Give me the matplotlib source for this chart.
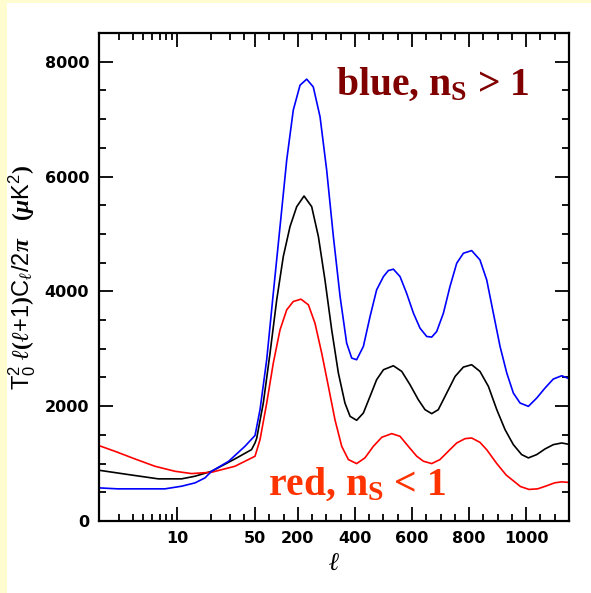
import matplotlib
matplotlib.use('Agg')
import matplotlib.pyplot as plt
import numpy as np
from matplotlib.patches import Rectangle

# multipole l and band power for the three spectra
l_blue = [2, 2.94, 7.8, 11, 14.5, 17.8, 20.4, 29, 40.6, 50, 67.5, 90.9, 114, 137.6, 161, 184, 207.7, 231, 254, 277.8,
          301, 324.5, 348, 371, 388.7, 406, 429.6, 453, 476, 500, 517, 534.7, 558, 581, 605, 628, 651.5, 669, 686.5,
          710, 733, 756.6, 780, 809, 838, 861.7, 885, 908.4, 932, 955, 978.5, 1007.7, 1037, 1066, 1095, 1124.5, 1150]
cl_blue = [577, 560, 560, 606, 664, 751, 866, 1040, 1301, 1490, 1939, 2809, 3968, 5128, 6287, 7157, 7591, 7696, 7562, 7041,
           6113, 4954, 3910, 3099, 2838, 2809, 3041, 3562, 4026, 4258, 4362, 4386, 4258, 3968, 3620, 3359, 3214, 3203, 3301,
           3620, 4084, 4490, 4664, 4710, 4548, 4200, 3620, 3041, 2577, 2229, 2055, 1997, 2142, 2316, 2473, 2530, 2480]

l_black = [2, 3.66, 6.8, 11, 14.5, 20.4, 33, 46.5, 50, 55.8, 79, 102.6, 126, 149, 172.6, 196, 221.7, 248.5, 272, 295,
           318.6, 342, 365, 383, 406, 429.6, 453, 476, 500, 534.7, 564, 593, 622, 645.6, 669, 692, 721.6, 751, 780, 809,
           838, 867.6, 897, 926, 955, 984, 1007.7, 1037, 1066, 1095, 1124.5, 1150]
cl_black = [884, 809, 734, 734, 780, 866, 1081, 1243, 1360, 1440, 2055, 2925, 3852, 4606, 5128, 5475, 5661, 5475, 4954, 4200,
            3330, 2577, 2055, 1823, 1754, 1881, 2171, 2461, 2635, 2704, 2606, 2374, 2113, 1939, 1870, 1939, 2229, 2519, 2681, 2722,
            2606, 2345, 1939, 1591, 1330, 1157, 1099, 1157, 1255, 1330, 1359, 1335]

l_red = [2, 2.78, 4.2, 6.35, 9.6, 13.5, 20.4, 33, 50, 67.5, 91, 114, 137.6, 161, 184, 211, 237, 260, 283.6, 307, 330,
         353.7, 377, 406, 435, 464.6, 494, 529, 558, 587, 616.5, 640, 669, 698, 727, 756.6, 786, 809, 838, 862, 897,
         930, 955, 980, 1010, 1040, 1070, 1100, 1124, 1150]
cl_red = [1313, 1214, 1081, 953, 866, 826, 849, 953, 1128, 1417, 2055, 2751, 3330, 3678, 3823, 3864, 3765, 3446, 2925, 2345, 1765,
          1301, 1070, 1000, 1099, 1301, 1458, 1522, 1475, 1301, 1128, 1041, 1000, 1070, 1214, 1359, 1435, 1446, 1370, 1240, 1000,
          800, 700, 600, 550, 560, 610, 665, 682, 672]

x_major = [10, 50, 200, 400, 600, 800, 1000]
x_minor = [3, 4, 5, 6, 7, 8, 9, 20, 30, 40] + list(range(100, 1151, 50))

# log axis up to l=50, linear after that
D = 111.6
K = 0.2854
X50 = D * np.log10(25.0)


def fwd(x):
    x = np.asarray(x, dtype=float)
    lg = D * np.log10(np.clip(x, 1e-3, None) / 2.0)
    return np.where(x <= 50, lg, X50 + K * (x - 50))


def inv(y):
    y = np.asarray(y, dtype=float)
    return np.where(y <= X50, 2.0 * 10 ** (np.minimum(y, X50) / D), 50 + (y - X50) / K)


plt.rcParams['mathtext.fontset'] = 'custom'
plt.rcParams['mathtext.rm'] = 'Liberation Serif:bold'
plt.rcParams['mathtext.it'] = 'Liberation Serif:italic:bold'
plt.rcParams['mathtext.sf'] = 'Liberation Sans'

fig = plt.figure(figsize=(5.91, 5.93), dpi=100)
fig.patch.set_facecolor('#FFFDCF')
fig.patches.append(Rectangle((7 / 591, 0), 1, 1 - 3 / 593, transform=fig.transFigure,
                             facecolor='white', edgecolor='none', zorder=-10))

ax = fig.add_axes([99 / 591, 1 - 521 / 593, 470 / 591, 488 / 593])
ax.set_zorder(1)
ax.set_xscale('function', functions=(fwd, inv))

ax.plot(l_black, cl_black, color='black', lw=1.2)
ax.plot(l_red, cl_red, color='#FF0000', lw=1.2)
ax.plot(l_blue, cl_blue, color='#0000FF', lw=1.2)

ax.set_xlim(2, 1150)
ax.set_ylim(0, 8500)

ax.set_xticks(x_major)
ax.set_xticklabels([str(v) for v in x_major])
ax.set_xticks(x_minor, minor=True)
ax.set_xticklabels([], minor=True)
ax.set_yticks([0, 2000, 4000, 6000, 8000])
ax.set_yticks(np.arange(500, 8500, 500), minor=True)

ax.tick_params(which='both', direction='in', top=True, right=True, width=1.3)
ax.tick_params(which='major', length=10, labelsize=11.5, pad=7)
ax.tick_params(which='minor', length=5)
for lab in ax.get_xticklabels() + ax.get_yticklabels():
    lab.set_fontweight('bold')
    lab.set_family('DejaVu Sans')
for sp in ax.spines.values():
    sp.set_linewidth(1.6)

fig.text(22 / 591, 1 - 277 / 593,
         r'$\mathsf{T_0^2}\ \ell(\ell\mathsf{+1})\mathsf{C}_\ell\mathsf{/2}\pi\quad(\mu \mathsf{K^2})$',
         rotation=90, ha='center', va='center', fontsize=17, family='Liberation Sans')
fig.text(334 / 591, 1 - 563 / 593, r'$\ell$', ha='center', va='center', fontsize=18)

fig.text(336 / 591, 1 - 95 / 593, r'blue, n$_\mathrm{S}$ > 1', color='#800000',
         fontsize=28.5, family='Liberation Serif', fontweight='bold', va='baseline')
fig.text(268 / 591, 1 - 495 / 593, r'red, n$_\mathrm{S}$ < 1', color='#FF3300',
         fontsize=28.5, family='Liberation Serif', fontweight='bold', va='baseline')

fig.savefig('out.png', dpi=100)
